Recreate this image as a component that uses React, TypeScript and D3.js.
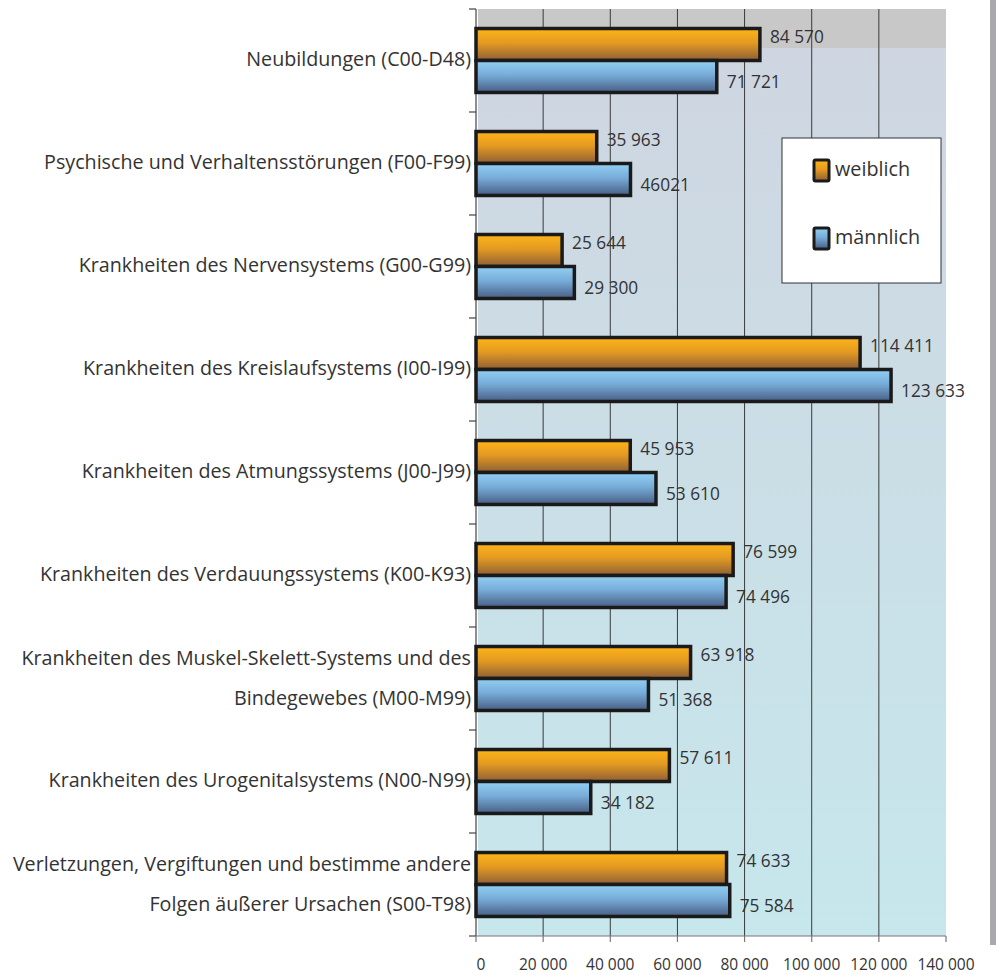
import React from 'react';
import * as d3 from 'd3';

const categories: string[][] = [
  ['Neubildungen (C00-D48)'],
  ['Psychische und Verhaltensstörungen (F00-F99)'],
  ['Krankheiten des Nervensystems (G00-G99)'],
  ['Krankheiten des Kreislaufsystems (I00-I99)'],
  ['Krankheiten des Atmungssystems (J00-J99)'],
  ['Krankheiten des Verdauungssystems (K00-K93)'],
  ['Krankheiten des Muskel-Skelett-Systems und des', 'Bindegewebes (M00-M99)'],
  ['Krankheiten des Urogenitalsystems (N00-N99)'],
  ['Verletzungen, Vergiftungen und bestimme andere', 'Folgen äußerer Ursachen (S00-T98)'],
];

const seriesNames = ['weiblich', 'männlich'];
const weiblich = [84570, 35963, 25644, 114411, 45953, 76599, 63918, 57611, 74633];
const maennlich = [71721, 46021, 29300, 123633, 53610, 74496, 51368, 34182, 75584];
const weiblichLabels = ['84 570', '35 963', '25 644', '114 411', '45 953', '76 599', '63 918', '57 611', '74 633'];
const maennlichLabels = ['71 721', '46021', '29 300', '123 633', '53 610', '74 496', '51 368', '34 182', '75 584'];
const xTicks = [0, 20000, 40000, 60000, 80000, 100000, 120000, 140000];

const W = 996;
const H = 975;
const left = 476;
const right = 946;
const top = 9;
const bottom = 936;
const font = '"Open Sans", "Noto Sans", sans-serif';
const textColor = '#333';

const fmt = (v: number) => d3.format(',')(v).replace(/,/g, ' ');

export default function App() {
  const x = d3.scaleLinear().domain([0, 140000]).range([left, right]);
  const y = d3.scaleBand<number>().domain(d3.range(categories.length)).range([top, bottom]).padding(0);
  const inner = d3.scaleBand<string>().domain(seriesNames).range([0, y.step()]).paddingInner(0).paddingOuter(0.61);
  const step = y.step();

  const series = [
    { name: 'weiblich', values: weiblich, labels: weiblichLabels, fill: 'url(#gOrange)', dy: -6 },
    { name: 'männlich', values: maennlich, labels: maennlichLabels, fill: 'url(#gBlue)', dy: 7 },
  ];

  return (
    <svg width={W} height={H} style={{ position: 'absolute', left: 0, top: 0, background: '#fff' }}>
      <defs>
        <linearGradient id="gBg" x1="0" y1="0" x2="0" y2="1">
          <stop offset="0" stopColor="#cfd5e0" />
          <stop offset="1" stopColor="#c6e7ec" />
        </linearGradient>
        <linearGradient id="gOrange" x1="0" y1="0" x2="0" y2="1">
          <stop offset="0" stopColor="#ffb417" />
          <stop offset="0.45" stopColor="#e39a22" />
          <stop offset="1" stopColor="#8e5f36" />
        </linearGradient>
        <linearGradient id="gBlue" x1="0" y1="0" x2="0" y2="1">
          <stop offset="0" stopColor="#92d0f4" />
          <stop offset="0.45" stopColor="#77acd8" />
          <stop offset="1" stopColor="#485e84" />
        </linearGradient>
      </defs>

      {/* plot background */}
      <rect x={left + 2} y={top} width={right - left - 2} height={bottom - top} fill="url(#gBg)" />
      <rect x={left + 2} y={top} width={right - left - 2} height={39} fill="#c8c8c8" />

      {/* gridlines */}
      {xTicks.slice(1, -1).map(t => (
        <line key={t} x1={x(t)} x2={x(t)} y1={top} y2={bottom} stroke="#3a3a3a" strokeWidth={1} />
      ))}

      {/* category ticks and axis */}
      <line x1={left} x2={left} y1={top} y2={bottom} stroke="#444" strokeWidth={1.2} />
      {d3.range(categories.length + 1).map(i => (
        <line key={i} x1={left - 7} x2={left} y1={top + i * step} y2={top + i * step} stroke="#444" strokeWidth={1.2} />
      ))}
      <line x1={left} x2={right} y1={bottom} y2={bottom} stroke="#777" strokeWidth={1.2} />
      {xTicks.map(t => (
        <line key={t} x1={x(t)} x2={x(t)} y1={bottom} y2={bottom + 6} stroke="#777" strokeWidth={1.2} />
      ))}
      {xTicks.map(t => (
        <text key={t} x={t === 0 ? x(t) + 5 : x(t)} y={966} textAnchor="middle" dominantBaseline="middle"
          fontFamily={font} fontSize={15.5} fill={textColor}>{fmt(t)}</text>
      ))}

      {/* bars */}
      {series.map(s => (
        <g key={s.name}>
          {s.values.map((v, i) => {
            const y0 = (y(i) as number) + (inner(s.name) as number);
            const bh = inner.bandwidth();
            return (
              <g key={i}>
                <rect x={x(0)} y={y0} width={x(v) - x(0)} height={bh} fill={s.fill} stroke="#1a1a1a" strokeWidth={3.5} />
                <text x={x(v) + 10} y={y0 + bh / 2 + s.dy} dominantBaseline="middle" fontFamily={font} fontSize={17.3}
                  fill={textColor}>{s.labels[i]}</text>
              </g>
            );
          })}
        </g>
      ))}

      {/* category labels */}
      {categories.map((lines, i) => {
        const cy = (y(i) as number) + step / 2;
        return lines.map((ln, j) => (
          <text key={i + '-' + j} x={left - 5} y={cy + (lines.length === 1 ? 0 : (j === 0 ? -19 : 21))}
            textAnchor="end" dominantBaseline="middle" fontFamily={font} fontSize={19.7} fill={textColor}>{ln}</text>
        ));
      })}

      {/* legend */}
      <rect x={782} y={138} width={159} height={145} fill="#fff" stroke="#333" strokeWidth={1} />
      {series.map((s, k) => (
        <g key={s.name} transform={`translate(814, ${160 + k * 68})`}>
          <rect x={0} y={0} width={15} height={21} fill={s.fill} stroke="#1a1a1a" strokeWidth={3} rx={1.5} />
          <text x={21} y={11} dominantBaseline="middle" fontFamily={font} fontSize={19.8} fill={textColor}>{s.name}</text>
        </g>
      ))}

      {/* right edge bar */}
      <rect x={990} y={0} width={6} height={945} fill="#a9a9ad" />
    </svg>
  );
}
